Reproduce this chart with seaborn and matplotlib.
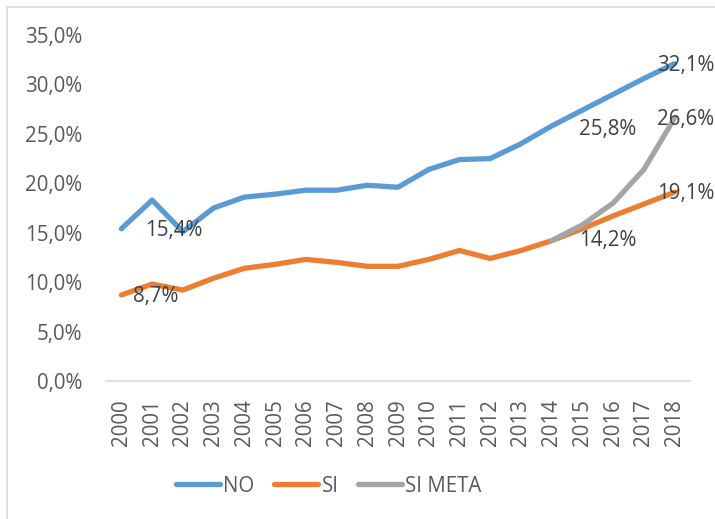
import matplotlib
matplotlib.use("Agg")
import matplotlib.pyplot as plt
import seaborn as sns
import pandas as pd
import numpy as np
from matplotlib.patches import Rectangle
from matplotlib.ticker import FuncFormatter
from matplotlib.lines import Line2D

years = list(range(2000, 2019))
no_vals = [15.4, 18.3, 15.1, 17.5, 18.6, 18.9, 19.3, 19.3, 19.8, 19.6, 21.4, 22.4, 22.5, 24.0, 25.8, 27.4, 29.0, 30.6, 32.1]
si_vals = [8.7, 9.8, 9.2, 10.4, 11.4, 11.8, 12.3, 12.0, 11.6, 11.6, 12.3, 13.2, 12.4, 13.2, 14.2, 15.4, 16.7, 17.9, 19.1]
meta_years = [2014, 2015, 2016, 2017, 2018]
meta_vals = [14.2, 15.8, 18.0, 21.4, 26.6]
series_names = ["NO", "SI", "SI META"]
colors = ["#5B9BD5", "#ED7D31", "#A5A5A5"]

# label annotations: (series, year, value, text, offset px)
labels = [
    ("NO", 2000, 15.4, "15,4%", (24, -2)),
    ("SI", 2000, 8.7, "8,7%", (12, -2)),
    ("NO", 2014, 25.8, "25,8%", (27, -4)),
    ("SI", 2014, 14.2, "14,2%", (27, 0)),
    ("NO", 2018, 32.1, "32,1%", (-18, -2)),
    ("SI META", 2018, 26.6, "26,6%", (-18, -1)),
    ("SI", 2018, 19.1, "19,1%", (-18, -1)),
]

df = pd.concat([
    pd.DataFrame({"year": years, "value": no_vals, "serie": "NO"}),
    pd.DataFrame({"year": years, "value": si_vals, "serie": "SI"}),
    pd.DataFrame({"year": meta_years, "value": meta_vals, "serie": "SI META"}),
], ignore_index=True)

sns.set_style("white")
plt.rcParams["font.family"] = ["Open Sans", "DejaVu Sans"]
text_color = "#595959"
fs = 14.8

fig = plt.figure(figsize=(7.15, 5.19), dpi=100)
ax = fig.add_axes([106/715, 1-381/519, (690-106)/715, (381-35)/519])

sns.lineplot(data=df, x="year", y="value", hue="serie", hue_order=series_names,
             palette=colors, linewidth=3.8, ax=ax, legend=False,
             solid_capstyle="round", zorder=3)

ax.set_xlim(1999.5, 2018.5)
ax.set_ylim(0, 35)
ax.set_yticks(np.arange(0, 36, 5))
ax.yaxis.set_major_formatter(FuncFormatter(lambda v, p: f"{v:.1f}%".replace(".", ",")))
ax.set_xticks(years)
ax.set_xticklabels([str(y) for y in years], rotation=90)
ax.tick_params(axis="both", labelsize=fs, colors=text_color, length=0)
ax.tick_params(axis="y", pad=17)
ax.tick_params(axis="x", pad=13)
ax.set_xlabel("")
ax.set_ylabel("")
for s in ["top", "right", "left"]:
    ax.spines[s].set_visible(False)
ax.spines["bottom"].set_color("#D9D9D9")
ax.spines["bottom"].set_linewidth(1.2)
ax.grid(False)

for serie, yr, val, txt, off in labels:
    ax.annotate(txt, xy=(yr, val), xytext=off, textcoords="offset pixels",
                ha="left", va="center", fontsize=fs, color="#404040", zorder=5)

handles = [Line2D([0], [0], color=c, lw=3.8, solid_capstyle="round") for c in colors]
fig.legend(handles, series_names, loc="center", bbox_to_anchor=(0.46, 1-486/519),
           ncol=3, frameon=False, fontsize=fs, labelcolor=text_color,
           handlelength=2.15, handletextpad=0.15, columnspacing=0.95)

fig.patches.append(Rectangle((7/715, -0.1), 1.2, 1-7/519+0.1, transform=fig.transFigure,
                             fill=False, edgecolor="#D9D9D9", linewidth=1.2))

fig.savefig("out.png", dpi=100)
